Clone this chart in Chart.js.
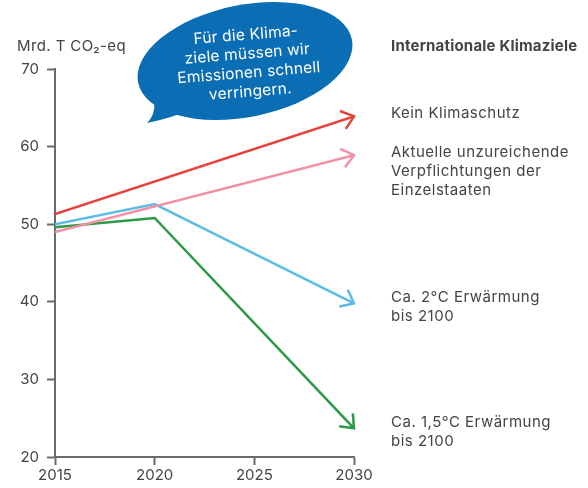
<!DOCTYPE html>
<html>
<head>
<meta charset="utf-8">
<script src="https://cdn.jsdelivr.net/npm/chart.js@4"></script>
<style>
  body { margin: 0; background: #fff; }
  #wrap { width: 588px; height: 488px; }
</style>
</head>
<body>
<div id="wrap"><canvas id="myChart" width="588" height="488"></canvas></div>
<script>
// values
var years = [2015, 2020, 2025, 2030];
var yTicks = [20, 30, 40, 50, 60, 70];
var redYears = [2015, 2030];
var redValues = [51.3, 63.9];
var pinkYears = [2015, 2030];
var pinkValues = [49.0, 58.9];
var blueYears = [2015, 2020, 2030];
var blueValues = [50.0, 52.6, 39.8];
var greenYears = [2015, 2020, 2030];
var greenValues = [49.6, 50.8, 23.7];

var seriesLabels = [
    ['Kein Klimaschutz'],
    ['Aktuelle unzureichende', 'Verpflichtungen der', 'Einzelstaaten'],
    ['Ca. 2°C Erwärmung', 'bis 2100'],
    ['Ca. 1,5°C Erwärmung', 'bis 2100']
];
var bubbleText = ['Für die Klima-', 'ziele müssen wir', 'Emissionen schnell', 'verringern.'];

var FONT = 'Inter, "Liberation Sans", sans-serif';
var GREY = '#6b6b6b';
var TEXT = '#444';

function toPoints(xs, ys){
    return xs.map(function(x, i){ return {x: x, y: ys[i]}; });
}

var arrowPlugin = {
    id: 'arrows',
    afterDatasetsDraw: function(chart){
        var c = chart.ctx;
        chart.data.datasets.forEach(function(ds, i){
            var pts = chart.getDatasetMeta(i).data;
            var a = pts[pts.length - 2], b = pts[pts.length - 1];
            var ang = Math.atan2(b.y - a.y, b.x - a.x);
            var len = 15, spread = 0.68;
            c.save();
            c.strokeStyle = ds.borderColor;
            c.lineWidth = 2.5;
            c.lineCap = 'butt';
            c.lineJoin = 'miter';
            c.beginPath();
            c.moveTo(b.x - len * Math.cos(ang - spread), b.y - len * Math.sin(ang - spread));
            c.lineTo(b.x, b.y);
            c.lineTo(b.x - len * Math.cos(ang + spread), b.y - len * Math.sin(ang + spread));
            c.stroke();
            c.restore();
        });
    }
};

var textPlugin = {
    id: 'texts',
    afterDraw: function(chart){
        var c = chart.ctx;
        c.save();
        c.letterSpacing = '0.4px';
        // unit label
        c.fillStyle = TEXT;
        c.font = '15px ' + FONT;
        c.textAlign = 'left';
        c.textBaseline = 'middle';
        c.fillText('Mrd. T CO\u2082-eq', 17, 46);

        // right-hand labels
        c.letterSpacing = '0.2px';
        c.font = 'bold 15px ' + FONT;
        c.fillText('Internationale Klimaziele', 391, 46);
        c.letterSpacing = '0.5px';
        c.font = '15px ' + FONT;
        var tops = [113, 152, 297, 422];
        seriesLabels.forEach(function(lines, i){
            lines.forEach(function(t, j){
                c.fillText(t, 391, tops[i] + j * 19);
            });
        });

        // speech bubble
        c.fillStyle = '#0b6eb4';
        c.beginPath();
        c.ellipse(245, 61, 109, 56, -0.2, 0, Math.PI * 2);
        c.fill();
        c.beginPath();
        c.moveTo(150, 88);
        c.quadraticCurveTo(160, 110, 147, 123);
        c.quadraticCurveTo(172, 118, 192, 109);
        c.closePath();
        c.fill();

        c.translate(248, 63);
        c.rotate(-0.08);
        c.fillStyle = '#fff';
        c.font = '15.5px ' + FONT;
        c.letterSpacing = '0.2px';
        c.textAlign = 'center';
        bubbleText.forEach(function(t, j){
            c.fillText(t, 0, -28 + j * 19);
        });
        c.restore();
    }
};

function lineSet(xs, ys, color){
    return {
        data: toPoints(xs, ys),
        borderColor: color,
        borderWidth: 2.5,
        pointRadius: 0,
        tension: 0,
        fill: false
    };
}

var ctx = document.getElementById('myChart').getContext('2d');
var myChart = new Chart(ctx, {
    type: 'line',
    data: {
        datasets: [
            lineSet(pinkYears, pinkValues, '#f290a6'),
            lineSet(redYears, redValues, '#e8423b'),
            lineSet(blueYears, blueValues, '#5bbce6'),
            lineSet(greenYears, greenValues, '#2a9a47')
        ]
    },
    options: {
        responsive: false,
        animation: false,
        layout: { padding: { top: 69, right: 234, left: 0, bottom: 0 } },
        plugins: { legend: { display: false }, tooltip: { enabled: false } },
        scales: {
            x: {
                type: 'linear',
                min: years[0],
                max: years[years.length - 1],
                afterBuildTicks: function(axis){
                    axis.ticks = years.map(function(v){ return {value: v}; });
                },
                afterFit: function(axis){ axis.height = 31; },
                grid: { drawOnChartArea: false, tickLength: 8, color: GREY, tickWidth: 2 },
                border: { color: GREY, width: 2 },
                ticks: {
                    color: TEXT, padding: 1, maxRotation: 0,
                    font: { family: FONT, size: 15 },
                    callback: function(v){ return String(v); }
                }
            },
            y: {
                min: yTicks[0],
                max: yTicks[yTicks.length - 1],
                afterBuildTicks: function(axis){
                    axis.ticks = yTicks.map(function(v){ return {value: v}; });
                },
                afterFit: function(axis){ axis.width = 55; },
                grid: { drawOnChartArea: false, tickLength: 8, color: GREY, tickWidth: 2 },
                border: { color: GREY, width: 2 },
                ticks: {
                    color: TEXT, padding: 8,
                    font: { family: FONT, size: 15 }
                }
            }
        }
    },
    plugins: [arrowPlugin, textPlugin]
});
</script>
</body>
</html>
